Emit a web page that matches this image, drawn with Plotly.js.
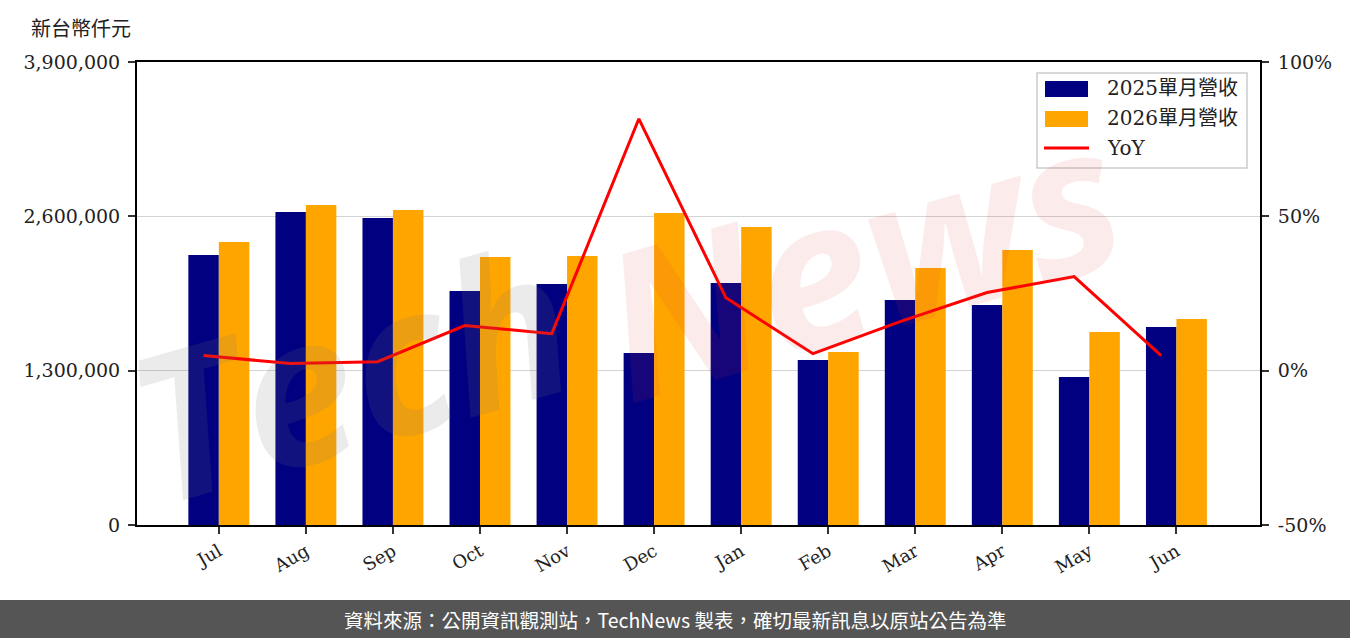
<!DOCTYPE html>
<html><head><meta charset="utf-8">
<script src="https://cdn.plot.ly/plotly-3.0.1.min.js"></script>
<style>html,body{margin:0;padding:0;background:#fff}#chart{width:1350px;height:638px}</style>
</head><body><div id="chart"></div>
<script>
const months = ['Jul','Aug','Sep','Oct','Nov','Dec','Jan','Feb','Mar','Apr','May','Jun'];
const rev2025 = [2274000, 2636000, 2586000, 1971000, 2030000, 1449000, 2038000, 1390000, 1895000, 1853000, 1247000, 1668000];
const rev2026 = [2384000, 2695000, 2653000, 2257000, 2266000, 2628000, 2510000, 1457000, 2165000, 2316000, 1626000, 1735000];
const yoy = [4.9, 2.3, 2.9, 14.6, 12.0, 81.6, 23.6, 5.5, 15.9, 25.3, 30.5, 4.9];
const leftTicks = [0, 1300000, 2600000, 3900000];
const rightTicks = [-50, 0, 50, 100];
const rightTickText = ['-50%', '0%', '50%', '100%'];
const seriesNames = ['2025單月營收', '2026單月營收', 'YoY'];
const seriesColors = ['#000080', '#FFA500', '#FF0000'];

const idx = months.map((m, i) => i);
const barW = 0.35;
const serif = 'DejaVu Serif, Noto Sans CJK TC, serif';

// plot area in pixels: x 137..1260, y 62..525
const PX = x => (x - 137) / 1123;
const PY = y => (525 - y) / 463;

const traces = [
  {type:'bar', name:seriesNames[0], x:idx, y:rev2025, width:barW, offset:-barW,
   marker:{color:seriesColors[0]}, yaxis:'y'},
  {type:'bar', name:seriesNames[1], x:idx, y:rev2026, width:barW, offset:0,
   marker:{color:seriesColors[1]}, yaxis:'y'},
  {type:'scatter', mode:'lines', name:seriesNames[2], x:idx.map(i => i - barW/2), y:yoy,
   line:{color:seriesColors[2], width:3}, yaxis:'y2'}
];

const shapes = [
  // legend box
  {type:'rect', xref:'paper', yref:'paper', x0:PX(1037), x1:PX(1247), y0:PY(168), y1:PY(73),
   fillcolor:'rgba(255,255,255,0.8)', line:{color:'#cccccc', width:1.5}, layer:'above'},
  {type:'rect', xref:'paper', yref:'paper', x0:PX(1045), x1:PX(1088), y0:PY(97), y1:PY(81),
   fillcolor:seriesColors[0], line:{width:0}, layer:'above'},
  {type:'rect', xref:'paper', yref:'paper', x0:PX(1045), x1:PX(1088), y0:PY(127), y1:PY(111),
   fillcolor:seriesColors[1], line:{width:0}, layer:'above'},
  {type:'line', xref:'paper', yref:'paper', x0:PX(1044), x1:PX(1089), y0:PY(148), y1:PY(148),
   line:{color:seriesColors[2], width:3}, layer:'above'},
  // footer band
  {type:'rect', xref:'paper', yref:'paper', x0:PX(0), x1:PX(1350), y0:PY(638), y1:PY(600),
   fillcolor:'#555555', line:{width:0}, layer:'above'}
];

const legendY = [88, 118, 148];
const annotations = [
  {text:'Tech', xref:'paper', yref:'paper', x:PX(350), y:PY(370), xanchor:'center', yanchor:'middle',
   showarrow:false, textangle:-16,
   font:{family:'Open Sans, sans-serif', size:205, color:'rgba(120,120,120,0.15)', style:'italic', weight:700}},
  {text:'News', xref:'paper', yref:'paper', x:PX(860), y:PY(255), xanchor:'center', yanchor:'middle',
   showarrow:false, textangle:-16,
   font:{family:'Open Sans, sans-serif', size:205, color:'rgba(220,60,60,0.10)', style:'italic', weight:700}},
  {text:'新台幣仟元', xref:'paper', yref:'paper', x:PX(81), y:PY(27),
   showarrow:false, xanchor:'center', yanchor:'middle',
   font:{family:'Noto Sans CJK TC, serif', size:20, color:'#222'}},
  {text:'資料來源：公開資訊觀測站，TechNews 製表，確切最新訊息以原站公告為準', xref:'paper', yref:'paper',
   x:PX(675), y:PY(619), showarrow:false, xanchor:'center', yanchor:'middle',
   font:{family:'Noto Sans CJK TC, sans-serif', size:19.5, color:'#ffffff'}}
];
seriesNames.forEach((n, i) => {
  annotations.push({text:n, xref:'paper', yref:'paper', x:PX(1105), y:PY(legendY[i]),
    showarrow:false, xanchor:'left', yanchor:'middle',
    font:{family:serif, size:20, color:'#222'}});
});

const layout = {
  width:1350, height:638,
  margin:{l:137, r:90, t:62, b:113},
  paper_bgcolor:'#fff', plot_bgcolor:'#fff',
  barmode:'overlay',
  showlegend:false,
  font:{family:serif, size:18, color:'#222'},
  xaxis:{range:[-0.94, 11.96], tickvals:idx, ticktext:months, tickangle:-30,
    ticks:'outside', ticklen:7, tickwidth:2, tickcolor:'#333',
    showline:true, linecolor:'#000', linewidth:2, mirror:true,
    showgrid:false, zeroline:false, fixedrange:true,
    tickfont:{family:serif, size:18, color:'#222'}},
  yaxis:{range:[0, 3900000], tickvals:leftTicks, tickformat:',d',
    ticks:'outside', ticklen:7, tickwidth:2, tickcolor:'#333', ticklabelstandoff:4,
    showline:true, linecolor:'#000', linewidth:2,
    showgrid:true, gridcolor:'#d3d3d3', gridwidth:1.5, zeroline:false,
    tickfont:{family:serif, size:19, color:'#222'}},
  yaxis2:{range:[-50, 100], tickvals:rightTicks, ticktext:rightTickText, overlaying:'y', side:'right',
    ticks:'outside', ticklen:7, tickwidth:2, tickcolor:'#333', ticklabelstandoff:5,
    showline:true, linecolor:'#000', linewidth:2,
    showgrid:false, zeroline:false,
    tickfont:{family:serif, size:19, color:'#222'}},
  shapes:shapes,
  annotations:annotations
};

Plotly.newPlot('chart', traces, layout, {displayModeBar:false, staticPlot:true});
</script>
</body></html>
